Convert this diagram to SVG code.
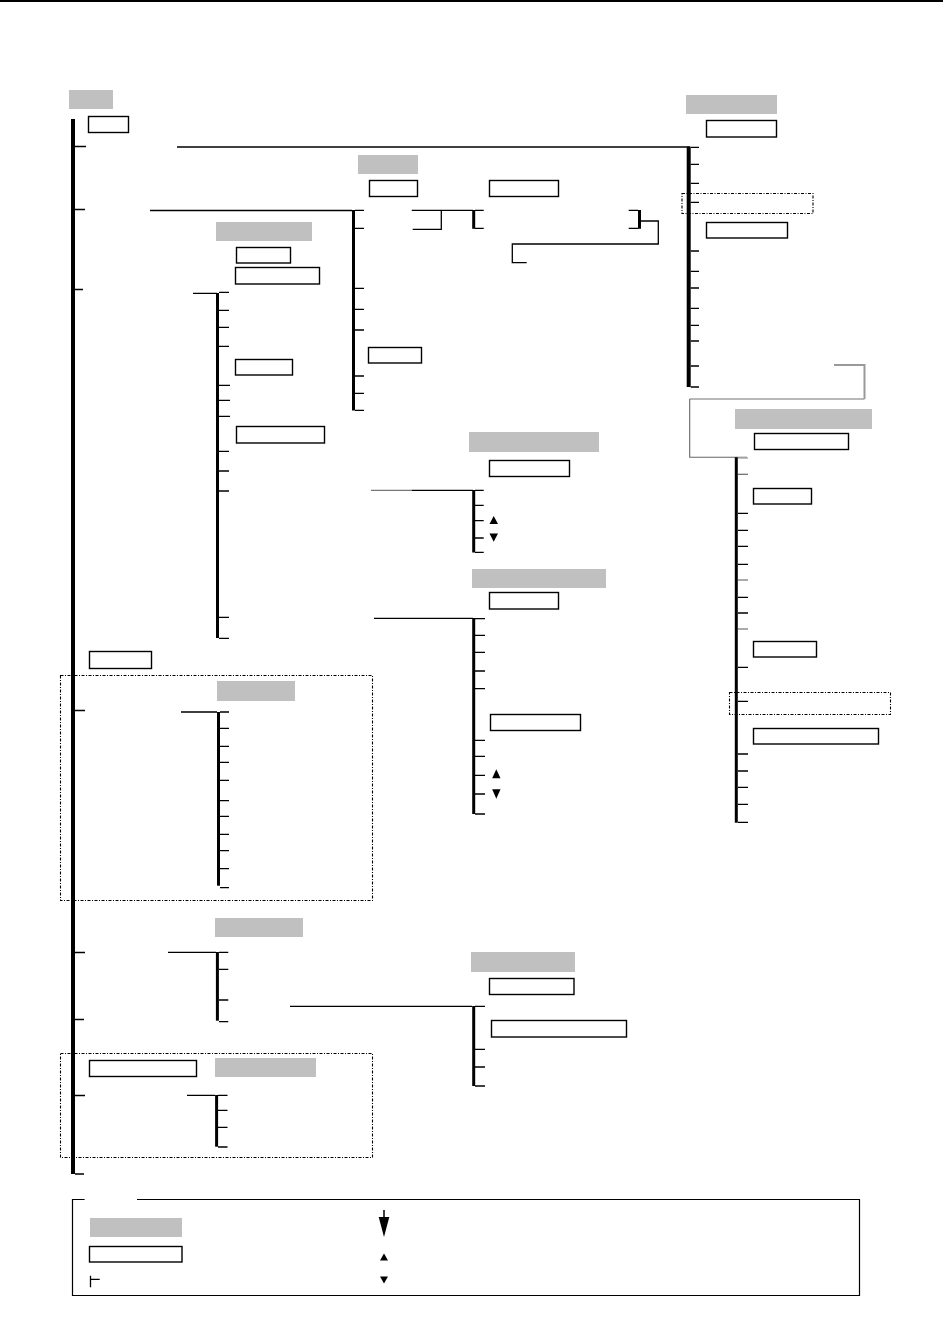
<svg xmlns="http://www.w3.org/2000/svg" width="943" height="1322" viewBox="0 0 943 1322">
<style>
.hd{fill:#c0c0c0;stroke:none}
.bx{fill:#fff;stroke:#000;stroke-width:1.4}
.dd{fill:none;stroke:#000;stroke-width:1.1;stroke-dasharray:3 1.5 1 1.5}
.tk{fill:none;stroke:#000;stroke-width:1.3}
.tr{fill:none;stroke:#000;stroke-width:3}
.tri{fill:#000}
</style>
<rect x="0" y="0" width="943" height="2" fill="#000"/>
<g id="connectors">
<rect x="71" y="119" width="4" height="1055" fill="#000"/>
<path class="tk" d="M75 146.5H86M75 209.5H85M75 289.5H83M75 710.5H85M75 952.5H85M75 1019.5H84M75 1095.5H85M75 1174H84"/>
<path class="tk" d="M177 147H690M150 210.5H352M193 293.3H217M181 712H217M168 952.3H216M290 1006.3H472M187 1095.3H215M374 618.3H473"/>
<line class="tr" x1="217.5" y1="293" x2="217.5" y2="638"/>
<path class="tk" d="M219 292.3H229M219 310.3H229M219 327.3H229M219 346.3H229M219 385.3H230M219 400.3H230M219 416.3H230M219 451.3H229M219 471H229M219 491H229M219 617.3H229M219 638.3H229"/>
<line class="tr" x1="353.5" y1="210" x2="353.5" y2="410.5"/>
<path class="tk" d="M355 210.3H364M355 228.3H364M355 288.3H364M355 309.3H364M355 330H364M355 376H364M355 393.3H364M355 410.3H364"/>
<path class="tk" d="M411.7 210.3H473M441.3 210.3V229.3H412.7"/>
<line class="tr" x1="473.7" y1="210" x2="473.7" y2="228.8"/>
<path class="tk" d="M475 210.3H483.7M475 228.3H483.7"/>
<line class="tr" x1="639.5" y1="210" x2="639.5" y2="228.8"/>
<path class="tk" d="M628.7 210.3H638M628.7 228.3H638M641 221H658.3V244H512.3V262.7H526.7"/>
<rect x="686.7" y="146.7" width="4" height="240.3" fill="#000"/>
<path class="tk" d="M690.7 147.3H699M690.7 164.3H699M690.7 183.3H699M690.7 202.3H699M690.7 251H699M690.7 271.3H699M690.7 288H699M690.7 308.3H699M690.7 325.3H699M690.7 341H699M690.7 366H699M690.7 387H699"/>
<path fill="none" stroke="#999" stroke-width="2" d="M834 365H864.5V399"/>
<path fill="none" stroke="#a0a0a0" stroke-width="1.4" d="M864.5 399H689.7"/>
<path fill="none" stroke="#666" stroke-width="1.1" d="M689.7 399V457.3H747"/>
<line class="tr" x1="736.3" y1="457.3" x2="736.3" y2="822.7"/>
<path fill="none" stroke="#aaa" stroke-width="1.5" d="M738 458H748"/>
<path fill="none" stroke="#666" stroke-width="1.2" d="M738 474.3H748"/>
<path fill="none" stroke="#aaa" stroke-width="2" d="M738 580H748M738 629H748"/>
<path class="tk" d="M738 513.3H748M738 530.3H748M738 546.3H748M738 564.3H748M738 597.3H748M738 613H748M738 667.3H748M738 701.3H748M738 754H748M738 771H748M738 787.3H748M738 804.3H748M738 822.3H748"/>
<path fill="none" stroke="#777" stroke-width="1.3" d="M371 490.3H411.7"/>
<path class="tk" d="M411.7 490.3H473"/>
<line class="tr" x1="473.7" y1="490" x2="473.7" y2="552.5"/>
<path class="tk" d="M475 490.3H483.7M475 505.3H483.7M475 520.7H483.7M475 538H483.7M475 552.3H483.7"/>
<polygon class="tri" points="489.5,524 493.7,516 498,524"/>
<polygon class="tri" points="489.5,533.5 498,533.5 493.7,541.7"/>
<line class="tr" x1="473.7" y1="618" x2="473.7" y2="814"/>
<path class="tk" d="M475 618.7H485M475 635.3H485M475 652.3H485M475 671H485M475 688.7H485M475 740.3H485M475 756.3H485M475 775.3H485M475 794H485M475 814H485"/>
<polygon class="tri" points="492.2,778.3 496.3,769.3 500.5,778.3"/>
<polygon class="tri" points="492.2,789.3 500.5,789.3 496.3,798.7"/>
<line class="tr" x1="218.5" y1="712" x2="218.5" y2="885.7"/>
<path class="tk" d="M220 712H229M220 728.3H229M220 746.3H229M220 762.3H229M220 780.3H229M220 800.7H229M220 816.3H229M220 834.3H229M220 850.7H229M220 868.7H229M220 887.7H229"/>
<line class="tr" x1="217.4" y1="952" x2="217.4" y2="1020.7"/>
<path class="tk" d="M219 952.3H228.3M219 969.3H228.3M219 1000H228.3M219 1021.7H228.3"/>
<line class="tr" x1="473.7" y1="1006" x2="473.7" y2="1086"/>
<path class="tk" d="M475 1006.3H485M475 1049.3H485M475 1067H485M475 1086H485"/>
<line class="tr" x1="216.6" y1="1095" x2="216.6" y2="1146.7"/>
<path class="tk" d="M218 1095.3H227.5M218 1110.3H227.5M218 1127.3H227.5M218 1147H227.5"/>
</g>
<g id="frames">
<rect class="dd" x="682" y="193.5" width="131" height="20"/>
<rect class="dd" x="729.5" y="692.5" width="161" height="22"/>
<rect class="dd" x="60.5" y="675.5" width="312" height="225"/>
<rect class="dd" x="60.5" y="1053.5" width="312" height="104"/>
</g>
<g id="headers">
<rect id="h1" class="hd" x="69" y="90" width="44" height="19"/>
<rect id="h2" class="hd" x="358" y="155" width="60" height="19"/>
<rect id="h3" class="hd" x="216" y="222" width="96" height="19"/>
<rect id="h4" class="hd" x="686" y="95" width="91" height="19"/>
<rect id="h5" class="hd" x="735" y="409" width="137" height="20"/>
<rect id="h6" class="hd" x="469" y="432" width="130" height="20"/>
<rect id="h7" class="hd" x="472" y="569" width="134" height="19"/>
<rect id="h8" class="hd" x="217" y="681" width="78" height="20"/>
<rect id="h9" class="hd" x="215" y="918" width="88" height="19"/>
<rect id="h10" class="hd" x="471" y="952" width="104" height="20"/>
<rect id="h11" class="hd" x="215" y="1058" width="101" height="19"/>
</g>
<g id="boxes">
<rect id="b1" class="bx" x="88.5" y="116.5" width="40" height="16"/>
<rect id="b2" class="bx" x="369.5" y="180.5" width="48" height="16"/>
<rect id="b3" class="bx" x="489.5" y="180.5" width="69" height="16"/>
<rect id="b4" class="bx" x="236.5" y="247.5" width="54" height="15.5"/>
<rect id="b5" class="bx" x="235.5" y="267.5" width="84" height="16.5"/>
<rect id="b6" class="bx" x="235.5" y="359.5" width="57" height="15.5"/>
<rect id="b7" class="bx" x="368.5" y="347.5" width="53" height="15.5"/>
<rect id="b8" class="bx" x="236.5" y="426.5" width="88" height="16.5"/>
<rect id="b9" class="bx" x="706.5" y="120.5" width="70" height="16.5"/>
<rect id="b10" class="bx" x="706.5" y="222.5" width="81" height="15.5"/>
<rect id="b11" class="bx" x="754.5" y="433.5" width="94" height="16"/>
<rect id="b12" class="bx" x="753.5" y="488.5" width="58" height="15.5"/>
<rect id="b13" class="bx" x="753.5" y="641.5" width="63" height="15.5"/>
<rect id="b14" class="bx" x="753.5" y="728.5" width="125" height="15.5"/>
<rect id="b15" class="bx" x="489.5" y="460.5" width="80" height="16"/>
<rect id="b16" class="bx" x="489.5" y="592.5" width="69" height="16.5"/>
<rect id="b17" class="bx" x="490.5" y="714.5" width="90" height="16"/>
<rect id="b18" class="bx" x="89.5" y="651.5" width="62" height="17"/>
<rect id="b19" class="bx" x="489.5" y="978.5" width="84.5" height="16"/>
<rect id="b20" class="bx" x="491.5" y="1020.5" width="135" height="16.5"/>
<rect id="b21" class="bx" x="89.5" y="1060.5" width="107" height="16"/>
</g>
<g id="legend">
<path fill="none" stroke="#000" stroke-width="1.2" d="M84.6 1199.5H72.5V1295.5H859.5V1199.5H137"/>
<rect class="hd" x="90" y="1218" width="92" height="19"/>
<rect class="bx" x="89.5" y="1246.5" width="92.5" height="15.5"/>
<path class="tk" d="M90.5 1275.7V1287.3M90.5 1279.3H99.7"/>
<path fill="none" stroke="#000" stroke-width="1.5" d="M384 1210V1222"/>
<polygon class="tri" points="378.7,1217 389.3,1217 384,1237"/>
<polygon class="tri" points="380,1260.5 384,1253.5 388,1260.5"/>
<polygon class="tri" points="380,1276.5 388,1276.5 384,1283.5"/>
</g>
</svg>
